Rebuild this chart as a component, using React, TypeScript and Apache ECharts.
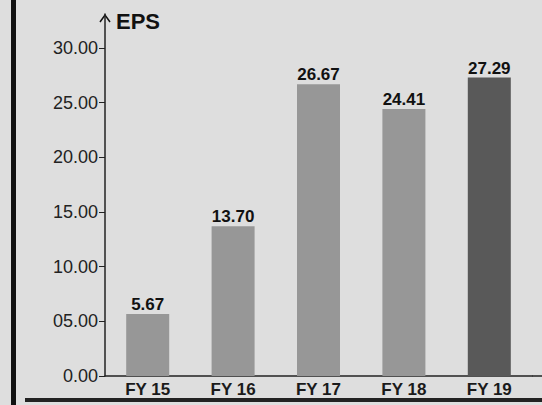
import React, { useEffect, useRef } from "react";
import * as echarts from "echarts";

const categories = ["FY 15", "FY 16", "FY 17", "FY 18", "FY 19"];
const epsValues = [5.67, 13.7, 26.67, 24.41, 27.29];
const tickValues = [0, 5, 10, 15, 20, 25, 30];
const barColors = ["#979797", "#979797", "#979797", "#979797", "#595959"];

export default function App() {
  const ref = useRef<HTMLDivElement>(null);
  useEffect(() => {
    document.body.style.margin = "0";
    const chart = echarts.init(ref.current!, null, { renderer: "svg" });
    const font = "'Liberation Sans', Arial, sans-serif";
    chart.setOption({
      animation: false,
      backgroundColor: "#dedede",
      grid: { left: 105, right: 10, top: 14, bottom: 29 },
      xAxis: {
        type: "category",
        data: categories,
        axisLine: { lineStyle: { color: "#222", width: 1.5 } },
        axisTick: { show: false },
        axisLabel: {
          color: "#1a1a1a",
          fontFamily: font,
          fontWeight: "bold",
          fontSize: 17,
          margin: 5,
        },
      },
      yAxis: {
        type: "value",
        min: 0,
        max: 33.1,
        interval: 5,
        splitLine: { show: false },
        axisLine: { show: true, lineStyle: { color: "#222", width: 1.5 } },
        axisTick: {
          show: true,
          length: 6,
          customValues: tickValues,
          lineStyle: { color: "#222" },
        },
        axisLabel: {
          customValues: tickValues,
          color: "#222",
          fontFamily: font,
          fontSize: 18,
          margin: 7,
          formatter: (v: number) =>
            v === 0 ? "0.00" : v < 10 ? "0" + v.toFixed(2) : v.toFixed(2),
        },
      },
      series: [
        {
          type: "bar",
          barWidth: 43,
          data: epsValues.map((v, i) => ({
            value: v,
            itemStyle: { color: barColors[i] },
          })),
          label: {
            show: true,
            position: "top",
            distance: 1,
            color: "#111",
            fontFamily: font,
            fontWeight: "bold",
            fontSize: 17,
            formatter: (p: any) => p.value.toFixed(2),
          },
        },
      ],
      graphic: [
        {
          type: "text",
          left: 116,
          top: 10,
          style: {
            text: "EPS",
            fill: "#111",
            font: "bold 22px 'Liberation Sans', Arial, sans-serif",
          },
        },
        {
          type: "polyline",
          shape: { points: [[100, 22], [105, 15], [110, 22]] },
          style: { stroke: "#111", lineWidth: 1.5, fill: null },
        },
        {
          type: "rect",
          shape: { x: 11, y: 0, width: 5, height: 405 },
          style: { fill: "#111" },
        },
        {
          type: "rect",
          shape: { x: 25, y: 398, width: 517, height: 4 },
          style: { fill: "#222" },
        },
        {
          type: "line",
          shape: { x1: 532, y1: 376, x2: 542, y2: 376 },
          style: { stroke: "#222", lineWidth: 1.5 },
        },
      ],
    });
    return () => chart.dispose();
  }, []);
  return (
    <div
      ref={ref}
      style={{ position: "absolute", left: 0, top: 0, width: 542, height: 405 }}
    />
  );
}
